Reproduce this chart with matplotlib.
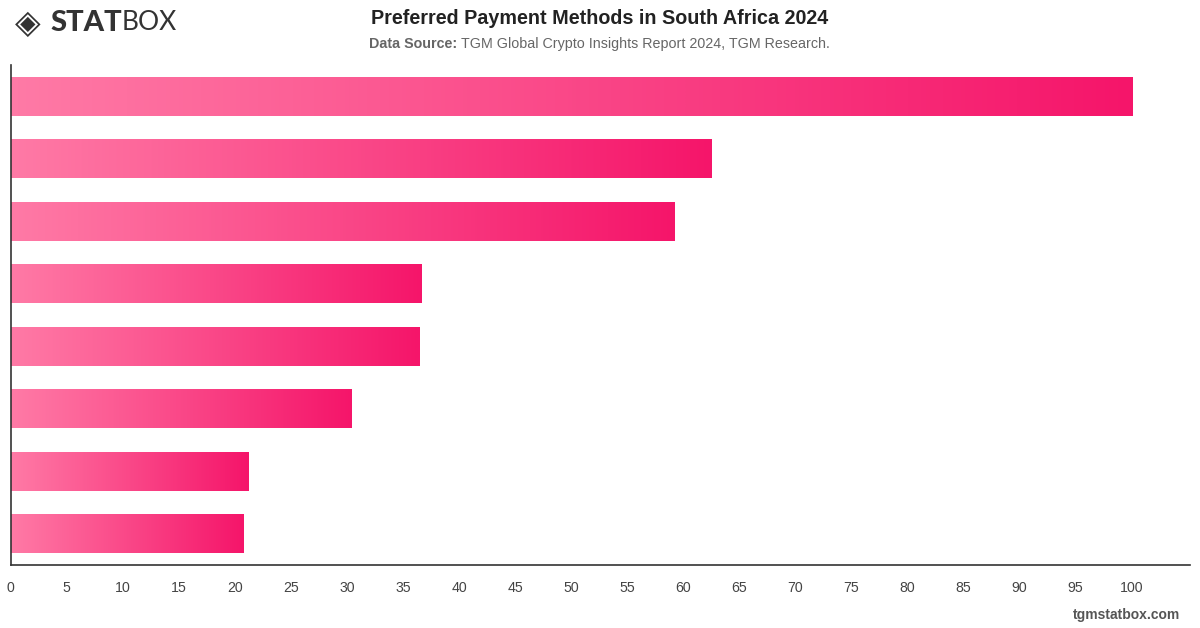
import numpy as np
import matplotlib
matplotlib.use("Agg")
import matplotlib.pyplot as plt
from matplotlib.colors import LinearSegmentedColormap

# share of respondents (%), top to bottom
values = [100, 62.5, 59.2, 36.6, 36.4, 30.4, 21.2, 20.7]
ticks = list(range(0, 101, 5))

title = "Preferred Payment Methods in South Africa 2024"
source_label = "Data Source:"
source_text = "TGM Global Crypto Insights Report 2024, TGM Research."

W, H = 1200, 628
fig = plt.figure(figsize=(W / 100, H / 100), dpi=100)
fig.patch.set_facecolor("white")


def fx(px):
    return px / W


def fy(py):
    return 1 - py / H


ax = fig.add_axes([fx(10.7), fy(565), fx(1190) - fx(10.7), fy(65) - fy(565)])

cmap = LinearSegmentedColormap.from_list("pink", ["#ff7aa6", "#f5156a"])
grad = np.linspace(0, 1, 256).reshape(1, -1)

ypos = np.arange(len(values))
bars = ax.barh(ypos, values, height=0.62, color="none", edgecolor="none")
for bar in bars:
    x0, y0 = bar.get_x(), bar.get_y()
    w, h = bar.get_width(), bar.get_height()
    im = ax.imshow(grad, cmap=cmap, aspect="auto", extent=(x0, x0 + w, y0, y0 + h),
                   interpolation="bicubic", zorder=2)
    im.set_clip_path(bar)

ax.set_xlim(0, 105.2)
ax.set_ylim(len(values) - 0.5, -0.5)
ax.set_xticks(ticks)
ax.set_xticklabels([str(t) for t in ticks])
ax.set_yticks([])
ax.tick_params(axis="x", length=0, pad=11.5, labelsize=10.2, labelcolor="#444444")
for lbl in ax.get_xticklabels():
    lbl.set_family("Liberation Sans")
for side in ["top", "right"]:
    ax.spines[side].set_visible(False)
for side in ["left", "bottom"]:
    ax.spines[side].set_color("#333333")
    ax.spines[side].set_linewidth(1.2)

# header
fig.text(0.5, fy(18), title, ha="center", va="center", fontsize=14.2,
         fontweight="bold", family="Liberation Sans", color="#222222")
fig.text(fx(457), fy(44), source_label, ha="right", va="center", fontsize=10.3,
         fontweight="bold", family="Liberation Sans", color="#666666")
fig.text(fx(461), fy(44), source_text, ha="left", va="center", fontsize=10.3,
         family="Liberation Sans", color="#666666")

# logo
fig.text(fx(15), fy(23), "◈", ha="left", va="center", fontsize=24,
         family="DejaVu Sans", color="#333333")
fig.text(fx(122), fy(23), "STAT", ha="right", va="center", fontsize=21,
         fontweight="black", family="Lato", color="#333333")
fig.text(fx(122), fy(23), "BOX", ha="left", va="center", fontsize=19,
         fontweight="normal", family="Lato", color="#333333")

# footer
fig.text(fx(1180), fy(615), "tgmstatbox.com", ha="right", va="center", fontsize=10,
         fontweight="bold", family="Liberation Sans", color="#555555")

fig.savefig("out.png", dpi=100, facecolor="white")
